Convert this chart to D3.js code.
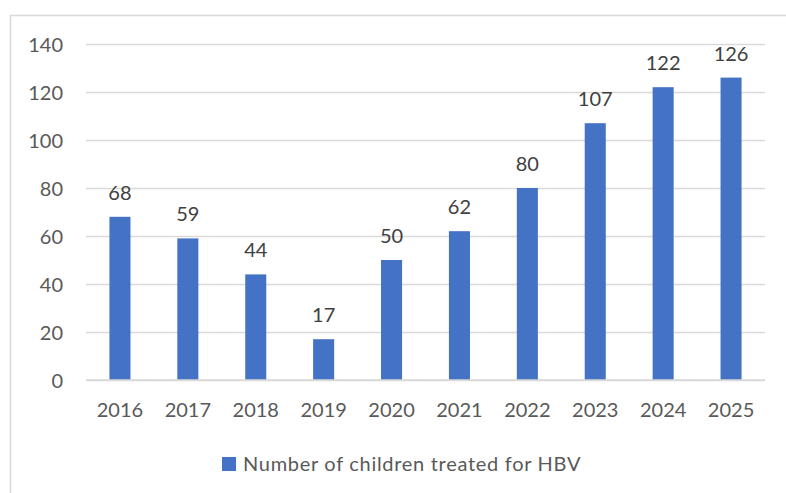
<!DOCTYPE html>
<html>
<head>
<meta charset="utf-8">
<script src="https://cdn.jsdelivr.net/npm/d3@7"></script>
<style>
  html, body { margin: 0; padding: 0; background: #fff; }
  svg { display: block; }
  text { font-family: Lato, "Open Sans", sans-serif; }
</style>
</head>
<body>
<svg id="chart" width="786" height="493"></svg>
<script>
// Children treated for HBV per year
const years = ["2016", "2017", "2018", "2019", "2020", "2021", "2022", "2023", "2024", "2025"];
const treated = [68, 59, 44, 17, 50, 62, 80, 107, 122, 126];
const yTicks = [0, 20, 40, 60, 80, 100, 120, 140];
const seriesName = "Number of children treated for HBV";

const W = 786, H = 493;
const plot = { left: 86, right: 765, top: 44, bottom: 380 };
const barColor = "#4472C4";
const gridColor = "#d9d9d9";
const axisText = "#595959";

const svg = d3.select("#chart");

// chart frame (runs past the right and bottom edges)
svg.append("rect")
  .attr("x", 10.5).attr("y", 15.5)
  .attr("width", W + 20).attr("height", H + 20)
  .attr("fill", "#fff").attr("stroke", gridColor).attr("stroke-width", 1.5);

const x = d3.scaleBand().domain(years).range([plot.left, plot.right]).paddingInner(0.69).paddingOuter(0.345);
const y = d3.scaleLinear().domain([0, 140]).range([plot.bottom, plot.top]);

// horizontal gridlines + y labels
const yAxis = d3.axisLeft(y).tickValues(yTicks).tickSize(-(plot.right - plot.left)).tickPadding(23);
const gy = svg.append("g").attr("transform", `translate(${plot.left},0)`).call(yAxis);
gy.select(".domain").remove();
gy.selectAll(".tick line").attr("stroke", gridColor).attr("stroke-width", 1.5);
gy.selectAll(".tick text").attr("fill", axisText).attr("font-size", 20)
  .attr("font-family", "Lato, 'Open Sans', sans-serif").attr("dy", "0.36em");

// bars
svg.append("g").selectAll("rect").data(years).join("rect")
  .attr("x", d => x(d))
  .attr("width", x.bandwidth())
  .attr("y", (d, i) => y(treated[i]))
  .attr("height", (d, i) => y(0) - y(treated[i]))
  .attr("fill", barColor);

// baseline
svg.append("line")
  .attr("x1", plot.left).attr("x2", plot.right)
  .attr("y1", y(0)).attr("y2", y(0))
  .attr("stroke", gridColor).attr("stroke-width", 1.5);

// value labels
svg.append("g").selectAll("text").data(years).join("text")
  .attr("x", d => x(d) + x.bandwidth() / 2)
  .attr("y", (d, i) => y(treated[i]) - 17)
  .attr("text-anchor", "middle")
  .attr("font-size", 20)
  .attr("fill", "#404040")
  .text((d, i) => treated[i]);

// x axis labels
const xAxis = d3.axisBottom(x).tickSize(0).tickPadding(23);
const gx = svg.append("g").attr("transform", `translate(0,${plot.bottom})`).call(xAxis);
gx.select(".domain").remove();
gx.selectAll(".tick text").attr("fill", axisText).attr("font-size", 20)
  .attr("font-family", "Lato, 'Open Sans', sans-serif");

// legend
const lg = svg.append("g");
lg.append("rect").attr("x", 222).attr("y", 457).attr("width", 14).attr("height", 14).attr("fill", barColor);
lg.append("text").attr("x", 243).attr("y", 470.5).attr("font-size", 20)
  .attr("letter-spacing", "0.7px").attr("fill", axisText).text(seriesName);
</script>
</body>
</html>
